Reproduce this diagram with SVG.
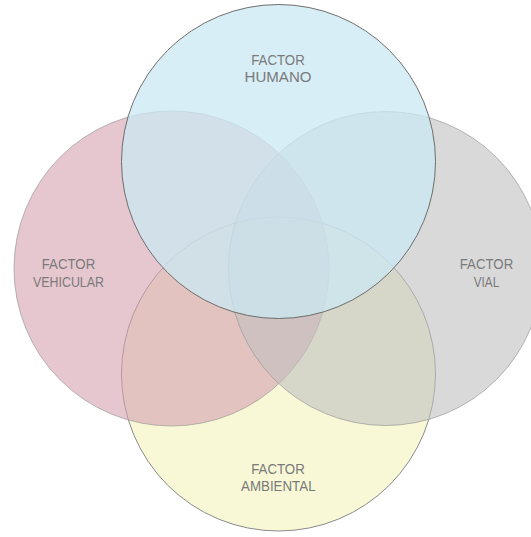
<svg xmlns="http://www.w3.org/2000/svg" width="531" height="537" viewBox="0 0 531 537">
<style>
.c{stroke-width:1}
.lbl{font-family:"Liberation Sans",Arial,sans-serif;font-size:14px;fill:#7a7a7a;text-anchor:middle}
</style>
<rect width="531" height="537" fill="#ffffff"/>
<g id="factor-ambiental">
<circle cx="278.5" cy="374" r="157" fill="#f8f8d6" stroke="#8a8a8a" class="c"/>
</g>
<g id="factor-vehicular">
<circle cx="171.5" cy="268.5" r="157.5" fill="#d5a0af" fill-opacity="0.6" stroke="#9a9a9a" stroke-opacity="0.7" class="c"/>
</g>
<g id="factor-vial">
<circle cx="385.5" cy="268.5" r="157" fill="#c0c0c0" fill-opacity="0.6" stroke="#9a9a9a" stroke-opacity="0.7" class="c"/>
</g>
<g id="factor-humano">
<circle cx="278.5" cy="161.5" r="157" fill="#cbe8f3" fill-opacity="0.75" stroke="#6e6e6e" class="c"/>
</g>
<g id="labels">
<text class="lbl" x="278" y="64.5" textLength="53.5" lengthAdjust="spacingAndGlyphs">FACTOR</text>
<text class="lbl" x="278" y="82" textLength="67" lengthAdjust="spacingAndGlyphs">HUMANO</text>
<text class="lbl" x="68.5" y="269" textLength="53.5" lengthAdjust="spacingAndGlyphs">FACTOR</text>
<text class="lbl" x="68.5" y="287" textLength="71" lengthAdjust="spacingAndGlyphs">VEHICULAR</text>
<text class="lbl" x="486.5" y="269" textLength="53.5" lengthAdjust="spacingAndGlyphs">FACTOR</text>
<text class="lbl" x="486.5" y="287" textLength="25.5" lengthAdjust="spacingAndGlyphs">VIAL</text>
<text class="lbl" x="278" y="473.5" textLength="53.5" lengthAdjust="spacingAndGlyphs">FACTOR</text>
<text class="lbl" x="278.3" y="491" textLength="74.5" lengthAdjust="spacingAndGlyphs">AMBIENTAL</text>
</g>
<g id="connectors"></g>
</svg>
